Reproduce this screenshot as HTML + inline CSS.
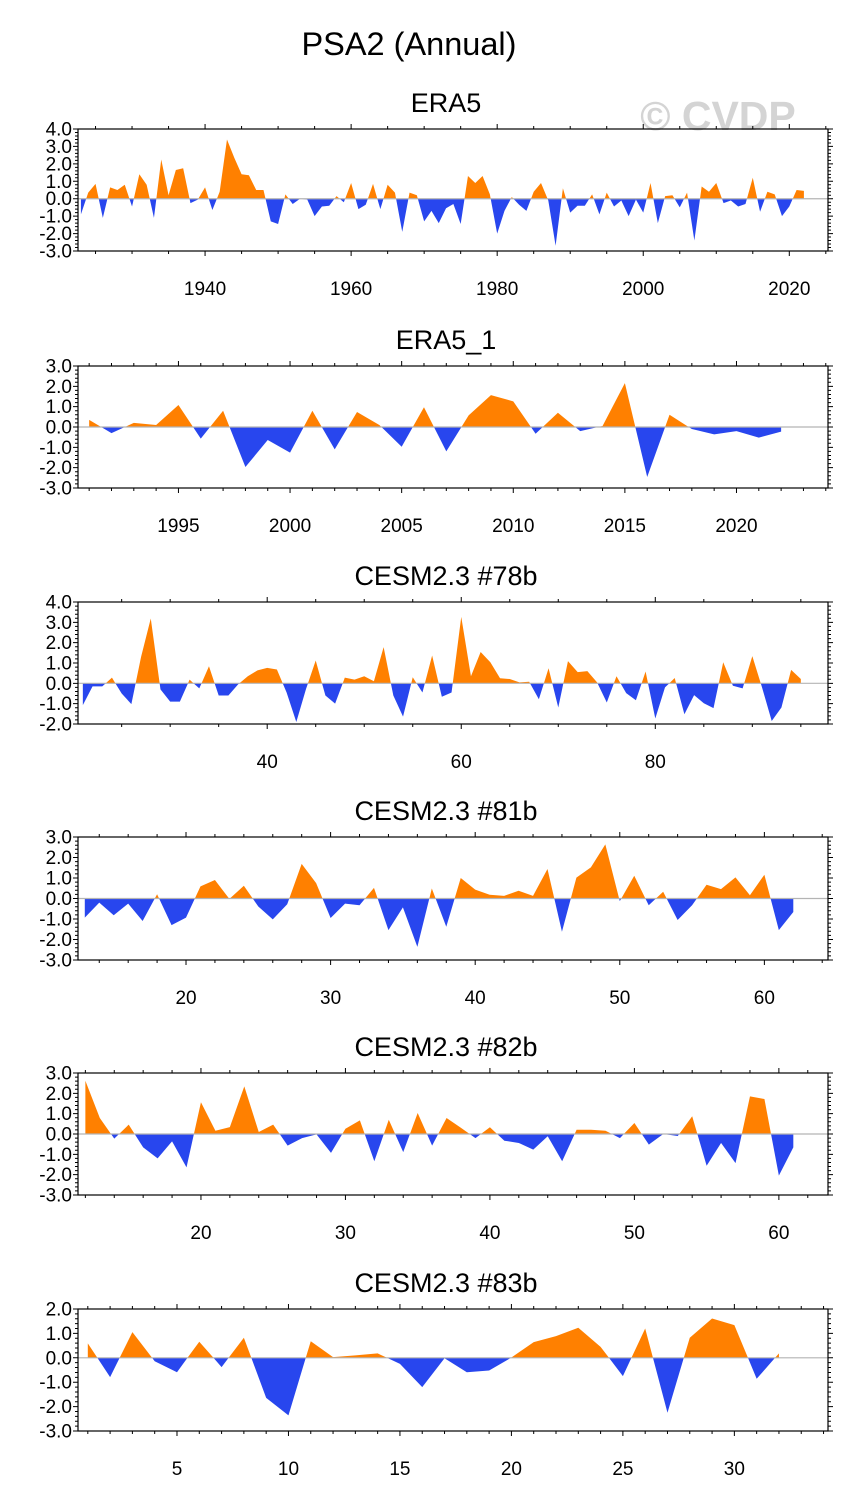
<!DOCTYPE html>
<html><head><meta charset="utf-8"><title>PSA2 (Annual)</title>
<style>
html,body{margin:0;padding:0;background:#fff;}
svg{display:block;font-family:"Liberation Sans",Arial,sans-serif;}
</style></head>
<body>
<svg id="chart" width="845" height="1506" viewBox="0 0 845 1506" xmlns="http://www.w3.org/2000/svg">
<text x="409" y="55" font-size="32.5" text-anchor="middle">PSA2 (Annual)</text>
<text x="718" y="130" font-size="41" font-weight="bold" fill="#d4d4d4" text-anchor="middle">© CVDP</text>
</svg>
<script>
const era5Start = 1923;
const era5Values = [-0.9,0.35,0.85,-1.1,0.65,0.5,0.8,-0.45,1.4,0.8,-1.1,2.25,0.2,1.65,1.75,-0.25,-0.05,0.65,-0.65,0.4,3.4,2.35,1.4,1.35,0.5,0.5,-1.3,-1.45,0.25,-0.3,0.0,-0.05,-1.0,-0.45,-0.4,0.15,-0.2,0.9,-0.6,-0.35,0.85,-0.6,0.8,0.35,-1.9,0.35,0.2,-1.3,-0.7,-1.4,-0.55,-0.3,-1.45,1.3,0.9,1.3,0.25,-2.0,-0.7,0.1,-0.35,-0.7,0.4,0.9,-0.1,-2.7,0.6,-0.8,-0.4,-0.4,0.25,-0.9,0.35,-0.45,-0.1,-1.0,-0.05,-0.8,0.9,-1.4,0.15,0.2,-0.5,0.35,-2.4,0.7,0.4,0.9,-0.25,-0.1,-0.45,-0.3,1.2,-0.75,0.4,0.25,-1.0,-0.45,0.5,0.45];
const era51Start = 1991;
const era51Values = [0.35,-0.3,0.2,0.1,1.08,-0.57,0.8,-1.97,-0.64,-1.26,0.8,-1.1,0.74,0.1,-0.97,0.97,-1.2,0.57,1.57,1.26,-0.33,0.7,-0.2,0.05,2.16,-2.46,0.6,-0.1,-0.36,-0.2,-0.52,-0.23];
const c78Start = 21;
const c78Values = [-1.07,-0.15,-0.15,0.28,-0.5,-1.02,1.3,3.19,-0.3,-0.9,-0.9,0.18,-0.25,0.84,-0.6,-0.6,-0.05,0.35,0.64,0.76,0.68,-0.45,-1.9,-0.28,1.12,-0.6,-1.0,0.28,0.18,0.35,0.1,1.78,-0.6,-1.64,0.3,-0.45,1.37,-0.66,-0.45,3.27,0.35,1.54,1.04,0.25,0.21,0.05,0.08,-0.78,0.74,-1.19,1.09,0.55,0.6,0.05,-0.94,0.35,-0.48,-0.83,0.58,-1.73,-0.2,0.26,-1.52,-0.58,-0.98,-1.22,1.04,-0.12,-0.25,1.34,-0.2,-1.85,-1.19,0.66,0.21];
const c81Start = 13;
const c81Values = [-0.93,-0.2,-0.82,-0.25,-1.1,0.21,-1.3,-0.93,0.59,0.9,-0.02,0.62,-0.39,-1.02,-0.28,1.69,0.75,-0.95,-0.25,-0.33,0.52,-1.54,-0.43,-2.36,0.49,-1.38,1.0,0.43,0.18,0.13,0.38,0.13,1.44,-1.62,1.02,1.52,2.64,-0.13,1.11,-0.33,0.33,-1.05,-0.33,0.67,0.46,1.03,0.16,1.16,-1.54,-0.66];
const c82Start = 12;
const c82Values = [2.62,0.79,-0.23,0.46,-0.66,-1.2,-0.36,-1.64,1.56,0.16,0.34,2.34,0.1,0.46,-0.57,-0.2,-0.02,-0.93,0.26,0.67,-1.34,0.7,-0.89,1.03,-0.57,0.79,0.3,-0.2,0.33,-0.33,-0.44,-0.77,-0.11,-1.34,0.21,0.21,0.16,-0.2,0.54,-0.52,0.0,-0.1,0.87,-1.56,-0.44,-1.43,1.85,1.72,-2.05,-0.66];
const c83Start = 1;
const c83Values = [0.59,-0.79,1.05,-0.14,-0.59,0.66,-0.38,0.82,-1.64,-2.36,0.68,0.03,0.1,0.18,-0.25,-1.2,-0.02,-0.59,-0.52,0.01,0.64,0.89,1.23,0.45,-0.75,1.2,-2.25,0.82,1.61,1.34,-0.86,0.18];

const NS = "http://www.w3.org/2000/svg";
const svg = document.getElementById("chart");
function mk(tag, attrs, parent){const e=document.createElementNS(NS,tag);for(const k in attrs)e.setAttribute(k,attrs[k]);(parent||svg).appendChild(e);return e;}
function fmt(v){return v.toFixed(1);}

function panel(cfg){
  const g = mk("g",{});
  
  
  const L=78,R=828,T=cfg.top,B=cfg.bottom;
  const xs = v => L+(v-cfg.x0)/(cfg.x1-cfg.x0)*(R-L);
  const ys = v => T+(cfg.y1-v)/(cfg.y1-cfg.y0)*(B-T);
  const pts=[];
  for(let i=0;i<cfg.values.length;i++){
    const x=cfg.start+i, v=cfg.values[i];
    if(i>0){const pv=cfg.values[i-1];
      if((pv>0&&v<0)||(pv<0&&v>0)){const t=pv/(pv-v);pts.push([x-1+t,0]);}}
    pts.push([x,v]);
  }
  const first=pts[0][0], last=pts[pts.length-1][0];
  function poly(sign){
    let d="M"+xs(first)+","+ys(0);
    for(const p of pts){const v=sign>0?Math.max(p[1],0):Math.min(p[1],0);d+=" L"+xs(p[0]).toFixed(2)+","+ys(v).toFixed(2);}
    d+=" L"+xs(last)+","+ys(0)+" Z";return d;
  }
  const pos=mk("path",{d:poly(1),fill:"#ff8000",stroke:"none"},g);
  
  
  const neg=mk("path",{d:poly(-1),fill:"#2846ee",stroke:"none"},g);
  
  
  const zl=mk("line",{x1:L,x2:R,y1:ys(0),y2:ys(0),stroke:"#b4b4b4","stroke-width":1.2},g);
  
  
  const box=mk("rect",{x:L,y:T,width:R-L,height:B-T,fill:"none",stroke:"#000","stroke-width":1.2},g);
  
  
  let td="";
  for(let v=cfg.y0;v<=cfg.y1+1e-6;v+=0.2){
    const y=ys(v);const major=Math.abs(v-Math.round(v))<1e-6;const len=major?5:3;
    td+=`M${L},${y}h${-len}M${R},${y}h${len}`;
  }
  for(let k=Math.ceil(cfg.x0/cfg.minor)*cfg.minor;k<=cfg.x1;k+=cfg.minor){
    const x=xs(k);const major=k%cfg.major===0;const len=major?5:3;
    td+=`M${x},${T}v${-len}M${x},${B}v${len}`;
  }
  const tk=mk("path",{d:td,stroke:"#000","stroke-width":1,fill:"none"},g);
  
  
  for(let v=cfg.y0;v<=cfg.y1;v++){
    const t=mk("text",{x:72,y:ys(v)+6.5,"font-size":19,"text-anchor":"end"},g);
    
    
    t.textContent=fmt(v);
  }
  for(const k of cfg.xlabels){
    const t=mk("text",{x:xs(k),y:B+44,"font-size":19,"text-anchor":"middle"},g);
    
    
    t.textContent=String(k);
  }
  const ti=mk("text",{x:446,y:T-17,"font-size":27,"text-anchor":"middle"},g);
  
  
  ti.textContent=cfg.title;
}

panel({name:"panel-era5",title:"ERA5",top:129,bottom:251,y0:-3,y1:4,x0:1922.6,x1:2025.3,start:era5Start,values:era5Values,minor:5,major:20,xlabels:[1940,1960,1980,2000,2020]});
panel({name:"panel-era5-1",title:"ERA5_1",top:366,bottom:488,y0:-3,y1:3,x0:1990.5,x1:2024.1,start:era51Start,values:era51Values,minor:1,major:5,xlabels:[1995,2000,2005,2010,2015,2020]});
panel({name:"panel-cesm-78b",title:"CESM2.3 #78b",top:602,bottom:724,y0:-2,y1:4,x0:20.5,x1:97.8,start:c78Start,values:c78Values,minor:5,major:20,xlabels:[40,60,80]});
panel({name:"panel-cesm-81b",title:"CESM2.3 #81b",top:837,bottom:960,y0:-3,y1:3,x0:12.53,x1:64.4,start:c81Start,values:c81Values,minor:2,major:10,xlabels:[20,30,40,50,60]});
panel({name:"panel-cesm-82b",title:"CESM2.3 #82b",top:1073,bottom:1195,y0:-3,y1:3,x0:11.49,x1:63.4,start:c82Start,values:c82Values,minor:2,major:10,xlabels:[20,30,40,50,60]});
panel({name:"panel-cesm-83b",title:"CESM2.3 #83b",top:1309,bottom:1431,y0:-3,y1:2,x0:0.56,x1:34.2,start:c83Start,values:c83Values,minor:1,major:5,xlabels:[5,10,15,20,25,30]});
</script>
</body></html>
